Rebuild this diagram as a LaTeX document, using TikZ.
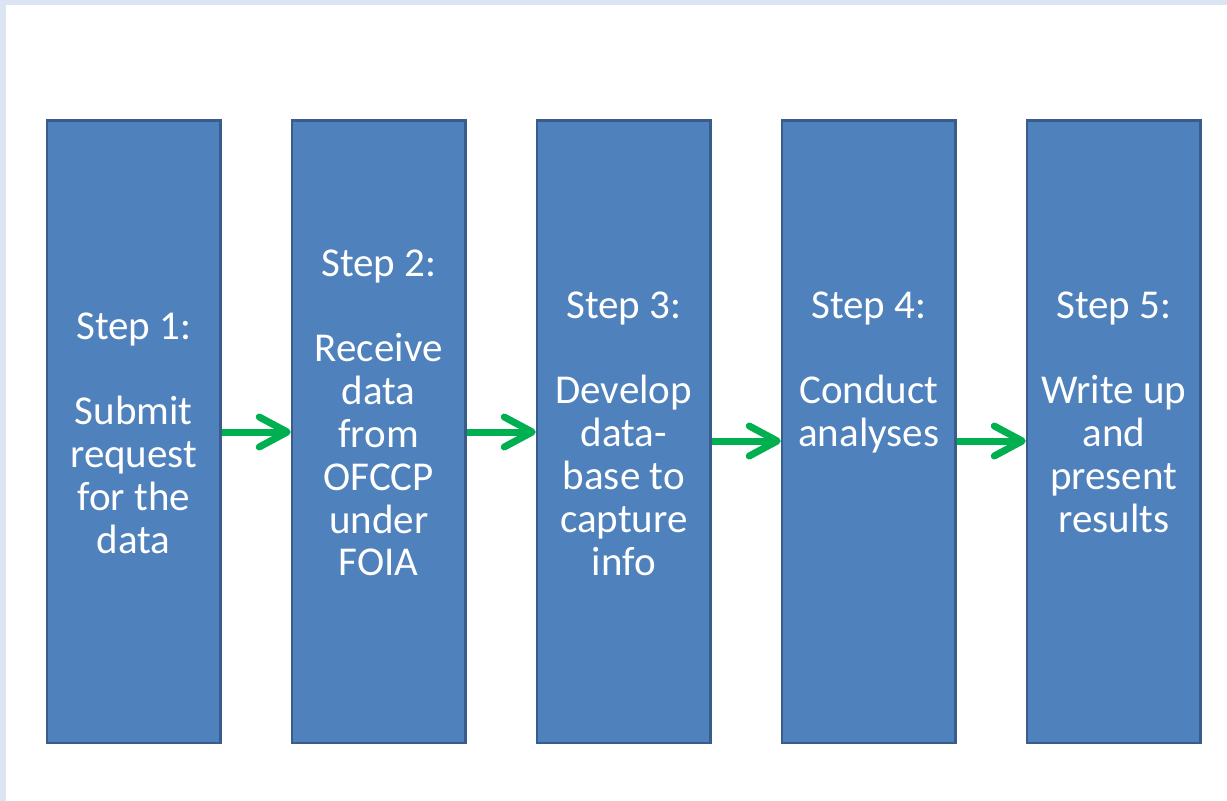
\documentclass[tikz,border=0pt]{standalone}
\usepackage{fontspec}
\setmainfont{Carlito}
\usetikzlibrary{arrows.meta}
\definecolor{boxfill}{RGB}{79,129,189}
\definecolor{boxline}{RGB}{56,93,138}
\definecolor{arrgreen}{RGB}{0,176,80}
\definecolor{paleblue}{RGB}{219,229,241}
\tikzset{
  stepbox/.style={draw=boxline, fill=boxfill, line width=2.5pt, inner sep=0pt,
    minimum width=173.5pt, minimum height=622.3pt},
  steptext/.style={text=white, align=center, inner sep=0pt,
    font=\fontsize{41}{42.8}\selectfont},
  flowarrow/.style={draw=arrgreen, line width=7pt,
    -{Straight Barb[length=28pt, width=30pt, round]}}
}
\begin{document}
\begin{tikzpicture}[x=1pt,y=-1pt]
\useasboundingbox (0,0) rectangle (1227,801);
\fill[white] (0,0) rectangle (1227,801);
\fill[paleblue] (0,0) rectangle (6,801);
\fill[paleblue] (0,0) rectangle (1227,5);
% boxes
\node[stepbox] (b1) at (133.75,431.65) {};
\node[stepbox] (b2) at (378.75,431.65) {};
\node[stepbox] (b3) at (623.75,431.65) {};
\node[stepbox] (b4) at (868.75,431.65) {};
\node[stepbox] (b5) at (1113.75,431.65) {};
% texts
\node[steptext] (t1) at (133.75,432.9) {Step 1:\\\mbox{}\\Submit\\request\\for the\\data};
\node[steptext] (t2) at (378.75,413) {Step 2:\\\mbox{}\\Receive\\data\\from\\OFCCP\\under\\FOIA};
\node[steptext] (t3) at (623.75,433.6) {Step 3:\\\mbox{}\\Develop\\data-\\base to\\capture\\info};
\node[steptext] (t4) at (868.75,372.4) {Step 4:\\\mbox{}\\Conduct\\analyses};
\node[steptext] (t5) at (1113.75,412) {Step 5:\\\mbox{}\\Write up\\and\\present\\results};
% arrows
\coordinate (ya) at (0,432);
\coordinate (yb) at (0,441);
\draw[flowarrow] (b1.east |- ya) -- (b2.west |- ya);
\draw[flowarrow] (b2.east |- ya) -- (b3.west |- ya);
\draw[flowarrow] (b3.east |- yb) -- (b4.west |- yb);
\draw[flowarrow] (b4.east |- yb) -- (b5.west |- yb);
\end{tikzpicture}
\end{document}
